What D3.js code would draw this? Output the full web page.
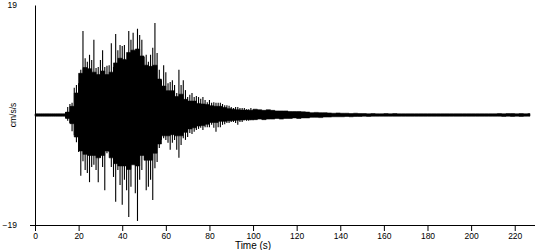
<!DOCTYPE html>
<html><head><meta charset="utf-8">
<script src="https://cdn.jsdelivr.net/npm/d3@7"></script>
<style>
html,body{margin:0;padding:0;background:#fff;}
svg{display:block;font-family:"Liberation Sans",Arial,sans-serif;}
</style></head>
<body>
<svg id="chart" width="550" height="250"></svg>
<script>
// ---- data (cm/s/s) ----
const xTicks = [0,20,40,60,80,100,120,140,160,180,200,220];
const yTicks = [-19,19];
const timeMax = 229.3;
// pre-event trace, 1-s samples from t=0
const preStart = 0;
const preHi = [0.2,0.2,0.2,0.2,0.2,0.2,0.2,0.2,0.2,0.2,0.2,0.2,0.2];
const preLo = [-0.2,-0.2,-0.2,-0.2,-0.2,-0.2,-0.2,-0.2,-0.2,-0.2,-0.2,-0.2,-0.2];
// dense body of the strong motion, 2-s samples from t=13
const bodyStart = 13;
const bodyHi = [0.2,0.5,1.5,3.8,7.2,8.2,8.0,7.4,7.0,7.6,
  7.0,7.4,9.0,9.8,9.6,10.8,11.2,11.4,10.2,8.6,
  8.4,8.6,6.2,5.0,4.2,4.2,3.2,3.6,2.7,2.4,
  2.4,2.0,1.9,1.8,1.6,1.5,1.5,1.3,1.1,1.0,
  0.9,0.85,0.85,0.8];
const bodyLo = [-0.2,-0.6,-1.5,-3.8,-6.2,-6.8,-7.0,-7.0,-7.4,-7.0,
  -6.2,-7.4,-8.4,-8.8,-8.8,-9.4,-8.6,-8.8,-7.0,-7.8,
  -7.8,-6.6,-5.0,-3.6,-3.6,-3.4,-3.6,-3.6,-3.0,-2.4,
  -2.2,-1.9,-1.8,-1.6,-1.3,-1.3,-1.1,-1.1,-1.0,-0.95,
  -0.9,-0.85,-0.8,-0.8];
// individual peaks, 1-s samples from t=13
const peakStart = 13;
const peakHi = [0.1,0.5,1.4,1.9,2.1,4.7,5.2,5.5,7.8,14.5,
  9.8,9.2,10.4,9.5,13.0,8.1,8.3,9.5,11.2,8.3,
  8.5,8.6,12.4,8.3,14.0,11.2,12.1,11.9,12.1,8.8,
  14.5,13.0,14.2,9.2,14.9,13.8,13.0,10.0,10.4,9.2,
  10.4,11.6,15.9,10.7,7.8,6.0,8.6,7.4,5.5,5.7,
  6.0,5.2,3.8,7.8,5.2,6.0,4.3,3.1,3.5,3.8,
  3.1,3.3,3.1,2.8,3.1,2.6,2.2,2.6,2.1,2.2,
  2.1,2.1,2.1,1.9,1.7,1.7,1.6,1.4,1.2,1.4,
  1.4,1.2,1.2,1.2,1.0,1.0,1.2,0.9];
const peakLo = [-0.1,-0.5,-1.0,-1.4,-2.8,-3.5,-4.7,-6.4,-10.5,-8.0,
  -9.5,-10.0,-11.6,-9.0,-8.6,-9.5,-11.6,-7.4,-9.0,-13.0,
  -6.6,-6.4,-9.0,-10.7,-15.0,-9.5,-12.1,-15.5,-11.2,-13.0,
  -17.6,-12.4,-8.1,-13.5,-18.3,-11.2,-9.5,-6.0,-13.0,-12.4,
  -11.2,-14.7,-9.2,-8.1,-5.7,-4.3,-4.0,-4.3,-4.8,-6.0,
  -4.8,-4.3,-6.0,-7.4,-5.2,-4.0,-4.3,-3.8,-3.1,-3.3,
  -2.9,-2.6,-2.4,-2.2,-2.6,-2.1,-2.1,-2.1,-1.7,-2.2,
  -2.9,-2.1,-2.1,-1.7,-1.6,-1.4,-1.4,-1.2,-1.2,-1.4,
  -1.7,-1.2,-1.2,-0.9,-1.0,-1.0,-0.9,-0.9];
// coda, 2-s samples from t=101
const codaStart = 101;
const codaHi = [1.0,0.9,0.8,0.9,0.8,0.7,0.7,0.7,0.6,0.6,
  0.6,0.55,0.5,0.4,0.45,0.4,0.4,0.35,0.3,0.35,
  0.3,0.3,0.25,0.3,0.25,0.25,0.2,0.25,0.2,0.2,
  0.25,0.2,0.25,0.2,0.2,0.2,0.2,0.2,0.2,0.2,
  0.2,0.2,0.2,0.2,0.2,0.2,0.2,0.2,0.2,0.2,
  0.2,0.2,0.2,0.2,0.2,0.2,0.25,0.2,0.25,0.25,
  0.2,0.25,0.2,0.25];
const codaLo = [-0.8,-0.7,-0.8,-0.7,-0.7,-0.6,-0.7,-0.6,-0.6,-0.5,
  -0.6,-0.5,-0.5,-0.4,-0.4,-0.45,-0.35,-0.35,-0.3,-0.3,
  -0.3,-0.25,-0.3,-0.25,-0.25,-0.2,-0.25,-0.2,-0.2,-0.2,
  -0.2,-0.2,-0.2,-0.2,-0.2,-0.2,-0.2,-0.2,-0.2,-0.2,
  -0.2,-0.2,-0.2,-0.2,-0.2,-0.2,-0.2,-0.2,-0.2,-0.2,
  -0.2,-0.2,-0.2,-0.2,-0.2,-0.2,-0.2,-0.25,-0.2,-0.25,
  -0.2,-0.25,-0.2,-0.2];

// ---- sample lists ----
function samples(start, step, hi, lo){
  return hi.map((h,i)=>({t:start+i*step, hi:h, lo:lo[i]}));
}
const envelope = [].concat(
  samples(preStart, 1, preHi, preLo),
  samples(bodyStart, 2, bodyHi, bodyLo),
  samples(codaStart, 2, codaHi, codaLo)
);
const peaks = samples(peakStart, 1, peakHi, peakLo);

const svg = d3.select("#chart");
const x = d3.scaleLinear().domain([0, timeMax]).range([35, 535]);
const y = d3.scaleLinear().domain([-19, 19]).range([225, 5]);

// solid body of the trace
svg.append("path")
  .datum(envelope)
  .attr("fill","#000")
  .attr("stroke","#000").attr("stroke-width",0.6)
  .attr("d", d3.area().x(d=>x(d.t)).y0(d=>y(d.lo)).y1(d=>y(d.hi)).curve(d3.curveStep));

// individual peaks
svg.append("g").selectAll("line").data(peaks).join("line")
  .attr("x1", d=>x(d.t)).attr("x2", d=>x(d.t))
  .attr("y1", d=>y(d.lo)).attr("y2", d=>y(d.hi))
  .attr("stroke","#000").attr("stroke-width",1.1);

// x axis
const gx = svg.append("g").attr("transform",`translate(0,${y(-19)})`)
  .call(d3.axisBottom(x).tickValues(xTicks).tickSize(6).tickSizeOuter(0).tickPadding(2));
gx.select(".domain").remove();
gx.append("line").attr("x1",30).attr("x2",x(timeMax)).attr("y1",0.5).attr("y2",0.5)
  .attr("stroke","#000");
gx.selectAll(".tick line").attr("stroke","#000");
gx.selectAll(".tick text").attr("fill","#000").attr("font-size","8.5px")
  .attr("font-family","'Liberation Sans',Arial,sans-serif");

// y axis
const gy = svg.append("g").attr("transform",`translate(${x(0)},0)`)
  .call(d3.axisLeft(y).tickValues(yTicks).tickSize(0).tickPadding(18).tickSizeOuter(0));
gy.select(".domain").attr("stroke","#000");
gy.selectAll(".tick text").attr("fill","#000").attr("font-size","8.5px")
  .attr("font-family","'Liberation Sans',Arial,sans-serif");

// axis titles
svg.append("text").attr("x", x(100)).attr("y", 249)
  .attr("text-anchor","middle").attr("font-size","10px").text("Time (s)");
svg.append("text").attr("transform",`translate(15.5,${y(0)}) rotate(-90)`)
  .attr("text-anchor","middle").attr("font-size","8.5px").text("cm/s/s");
</script>
</body></html>
